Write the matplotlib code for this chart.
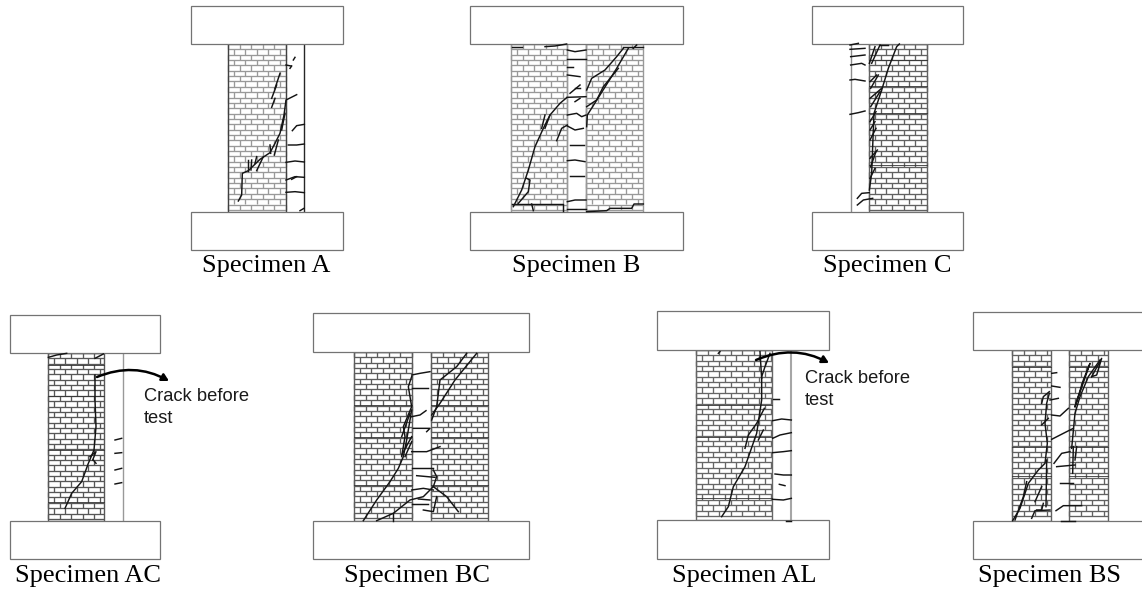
import matplotlib
matplotlib.use("Agg")
import matplotlib.pyplot as plt
from matplotlib.collections import LineCollection
from matplotlib.patches import Rectangle, FancyArrowPatch

# Specimen labels: text, centre x, baseline y
LABELS = [("Specimen A", 266, 272), ("Specimen B", 576, 272), ("Specimen C", 887, 272),
          ("Specimen AC", 88, 582), ("Specimen BC", 417, 582), ("Specimen AL", 744, 582),
          ("Specimen BS", 1050, 582)]

# Concrete blocks: x0, x1, y0, y1
BLOCKS = [(191, 343, 6, 44), (191, 343, 212, 250),
          (470, 683, 6, 44), (470, 683, 212, 250),
          (812, 963, 6, 44), (812, 963, 212, 250),
          (10, 160, 315, 353), (10, 160, 521, 559),
          (313, 529, 313, 352), (313, 529, 521, 559),
          (657, 829, 311, 350), (657, 829, 520, 559),
          (973, 1150, 312, 350), (973, 1150, 521, 559)]

# Brick panels: x0, x1, y0, y1, line grey level, rows drawn darker
WALLS = [(228, 286, 44, 212, 0.6, []),
         (511, 567, 44, 212, 0.6, []), (586, 643, 44, 212, 0.6, []),
         (869, 927, 44, 212, 0.38, [86, 113, 60, 165]),
         (48, 104, 353, 521, 0.34, [365, 396, 450, 502]),
         (354, 412, 352, 521, 0.36, [405, 437, 485]), (431, 488, 352, 521, 0.36, [405, 437, 485]),
         (696, 772, 350, 520, 0.4, [405, 437, 498]),
         (1012, 1051, 350, 521, 0.38, [367, 447, 476]), (1069, 1108, 350, 521, 0.38, [367, 447, 476])]

# Column edge lines: x, y0, y1, grey, width
COLUMN_LINES = [(304, 44, 212, 0.15, 1.0), (286, 44, 212, 0.25, 0.9), (228, 44, 212, 0.25, 0.9),
                (567, 44, 212, 0.6, 1.0), (586, 44, 212, 0.6, 1.0),
                (851, 44, 212, 0.55, 1.0), (123, 353, 521, 0.6, 1.0),
                (791, 350, 520, 0.65, 1.5)]

# Crack traces (origin of the measured crop, then polylines in 3x crop units)
CRACKS_A = ((180, 0), [
    [(175,603),(185,585),(187,520),(205,512),(240,478),(270,458),(285,430),(300,400),(312,345),(318,300),(350,284)],
    [(300,220),(285,265)], [(290,255),(275,295)], [(285,295),(275,322)],
    [(340,180),(345,172)], [(318,195),(333,198)], [(330,205),(335,198)],
    [(270,435),(272,460)], [(295,420),(283,465)], [(205,480),(205,512)], [(215,480),(213,510)],
    [(230,470),(225,490)], [(250,470),(230,512)], [(315,340),(305,390)],
    [(337,392),(350,377),(373,373)], [(325,435),(350,435),(373,432)], [(318,487),(345,483),(373,486)],
    [(318,540),(345,530),(373,532)], [(335,538),(350,530)], [(318,577),(345,575),(373,578)], [(360,632),(372,625)]])
CRACKS_B = ((460, 0), [
    [(160,620),(185,570),(205,510),(225,440),(250,385),(270,345),(300,310),(320,293)],
    [(175,610),(205,575),(210,540),(200,535)], [(255,345),(245,385)], [(270,345),(255,385)],
    [(290,422),(305,385),(322,375)],
    [(380,380),(382,345),(420,285),(470,205),(505,145)],
    [(380,270),(395,235),(435,210),(470,170),(490,145)],
    [(380,320),(410,300),(430,260),(475,205)],
    [(155,140),(185,140)], [(255,140),(285,138),(320,132)], [(490,140),(550,140)], [(520,145),(530,135)],
    [(155,612),(310,612),(310,632)], [(215,612),(220,632)],
    [(380,635),(440,632),(450,625),(515,625),(522,612),(550,612)],
    [(322,150),(345,155),(378,150)], [(322,178),(378,178)], [(322,200),(340,200)], [(322,225),(345,228),(360,230)],
    [(330,280),(360,255)], [(345,265),(360,265)], [(322,292),(378,290)], [(345,305),(360,295)],
    [(322,345),(350,340),(365,350),(378,345)], [(322,378),(345,390),(370,385)], [(330,435),(373,435)],
    [(322,482),(345,480),(375,485)], [(330,528),(372,528)], [(322,605),(345,600),(378,600)], [(322,628),(378,628)]])
CRACKS_C = ((800, 0), [
    [(208,570),(215,520),(218,440),(222,340),(245,270),(265,205),(290,140),(298,132)],
    [(208,190),(225,140)], [(215,190),(240,135)], [(210,245),(230,225)], [(212,265),(235,225)],
    [(210,295),(245,265)], [(212,320),(240,275)], [(210,365),(228,335)], [(210,390),(225,365)],
    [(210,420),(228,385)], [(210,475),(232,450)], [(212,500),(228,455)], [(210,535),(225,505)],
    [(240,135),(265,135)],
    [(150,135),(175,130)], [(150,148),(195,145)], [(152,170),(195,165)], [(152,195),(185,190),(195,195)],
    [(150,240),(165,238),(195,243)], [(150,343),(175,338),(195,333)],
    [(172,595),(185,580),(208,578)], [(172,615),(190,600),(218,595)]])
CRACKS_AC = ((0, 300), [
    [(145,172),(170,165),(200,160)], [(285,175),(310,162)],
    [(285,225),(285,300),(288,380),(282,450),(265,490),(245,545),(215,580),(195,625)],
    [(270,470),(288,455),(278,480)], [(280,480),(288,490)],
    [(345,420),(365,415)], [(345,460),(365,458)], [(345,510),(365,505)], [(345,552),(365,548)]])
CRACKS_BC = ((300, 300), [
    [(190,662),(230,600),(270,545),(295,505),(310,470),(320,420),(335,330)],
    [(305,470),(315,410),(310,380),(335,320),(325,260),(335,230)],
    [(305,410),(330,340)], [(305,465),(335,410)], [(315,470),(335,425)],
    [(335,225),(360,220),(390,215)],
    [(230,662),(280,640),(330,600),(370,590),(400,560),(410,530),(400,510)],
    [(395,360),(410,320),(420,240),(470,200),(500,160)],
    [(395,345),(420,310),(465,240),(530,160)],
    [(475,635),(440,590),(400,560)], [(280,640),(280,662)],
    [(335,265),(385,265)], [(335,350),(360,345),(378,332)], [(340,385),(390,385),(380,395)],
    [(335,455),(380,455),(420,440)], [(335,505),(400,505)], [(350,527),(405,532)],
    [(335,570),(370,565),(400,570)], [(355,597),(390,600)], [(335,612),(385,612)],
    [(370,630),(400,635),(410,590)]])
CRACKS_AL = ((650, 300), [
    [(215,650),(235,620),(250,560),(285,500),(320,400),(335,300),(335,230),(345,200),(360,160)],
    [(285,445),(295,405),(320,370),(343,325)], [(330,155),(335,235)], [(325,420),(340,390)], [(205,160),(210,155)],
    [(368,298),(388,298)], [(368,362),(395,357),(424,360)], [(368,415),(390,405),(424,398)],
    [(368,458),(400,455),(424,452)], [(375,522),(400,525),(424,525)], [(388,553),(405,557)],
    [(368,598),(400,600),(424,595)], [(408,662),(424,662)]])
CRACKS_BS = ((960, 300), [
    [(158,662),(180,625),(205,550),(235,510),(255,490),(262,430),(255,370),(260,310),(268,280)],
    [(165,660),(190,590),(200,545)], [(225,605),(245,560)], [(258,620),(260,480)],
    [(245,310),(250,290),(268,275)], [(245,375),(265,355)], [(230,630),(245,630),(250,610)],
    [(215,655),(225,632),(270,630)],
    [(335,445),(345,340),(360,290),(385,230),(420,180)],
    [(345,320),(370,240),(390,190),(345,320)], [(395,230),(425,175),(410,225),(395,230)],
    [(340,440),(338,520)], [(350,440),(345,480)],
    [(275,220),(290,218)], [(275,258),(300,262)], [(270,300),(295,295)], [(275,345),(300,348),(325,325)],
    [(275,418),(320,395),(340,385)], [(282,490),(305,460),(330,455)], [(290,500),(345,495)],
    [(300,550),(340,550)], [(288,632),(310,617),(365,617)], [(302,662),(345,662)]])
ALL_CRACKS = [CRACKS_A, CRACKS_B, CRACKS_C, CRACKS_AC, CRACKS_BC, CRACKS_AL, CRACKS_BS]

# Arrow annotations: start, end; notes: x, baseline of the last line, text
ARROWS = [((97, 377), (169, 381)), ((756, 360), (829, 363))]
NOTES = [(144, 423, "Crack before\ntest"), (805, 405, "Crack before\ntest")]

ROW_H = 5.35
BRICK_W = 11.5

fig = plt.figure(figsize=(11.42, 5.92), dpi=100)
ax = fig.add_axes([0, 0, 1, 1])
ax.set_xlim(0, 1142)
ax.set_ylim(592, 0)
ax.axis("off")

for x0, x1, y0, y1, grey, dark_rows in WALLS:
    segs = []
    n = int((y1 - y0) / ROW_H)
    for i in range(n + 1):
        y = y0 + i * ROW_H
        segs.append([(x0, y), (x1, y)])
        if i < n:
            off = (BRICK_W / 2) * (i % 2)
            x = x0 + off
            while x <= x1:
                segs.append([(x, y), (x, y + ROW_H)])
                x += BRICK_W
    ax.add_collection(LineCollection(segs, colors=str(grey), linewidths=0.95, zorder=1))
    ax.add_patch(Rectangle((x0, y0), x1 - x0, y1 - y0, fill=False, ec=str(grey), lw=1.0, zorder=1))
    for y in dark_rows:
        ax.plot([x0, x1], [y, y], color="0.2", lw=0.6, zorder=1.5)

for x, y0, y1, grey, w in COLUMN_LINES:
    ax.plot([x, x], [y0, y1], color=str(grey), lw=w, zorder=2)

for x0, x1, y0, y1 in BLOCKS:
    ax.add_patch(Rectangle((x0, y0), x1 - x0, y1 - y0, fc="white", ec="0.45", lw=0.9, zorder=3))

for (ox, oy), lines in ALL_CRACKS:
    for line in lines:
        ax.plot([ox + p[0] / 3 for p in line], [oy + p[1] / 3 for p in line],
                color="0.08", lw=1.05, solid_joinstyle="round", zorder=4)

for a, b in ARROWS:
    ax.add_patch(FancyArrowPatch(a, b, connectionstyle="arc3,rad=-0.24",
                                 arrowstyle="-|>,head_length=4,head_width=2.2",
                                 color="black", lw=1.8, shrinkA=0, shrinkB=0, zorder=5))

for x, y, s in NOTES:
    ax.text(x, y, s, family="Liberation Sans", fontsize=13.2, color="0.1",
            va="baseline", ha="left", linespacing=1.4, clip_on=True)

for s, x, y in LABELS:
    ax.text(x, y, s, family="Liberation Serif", fontsize=19, ha="center", va="baseline", color="black")

fig.savefig("out.png", dpi=100)
